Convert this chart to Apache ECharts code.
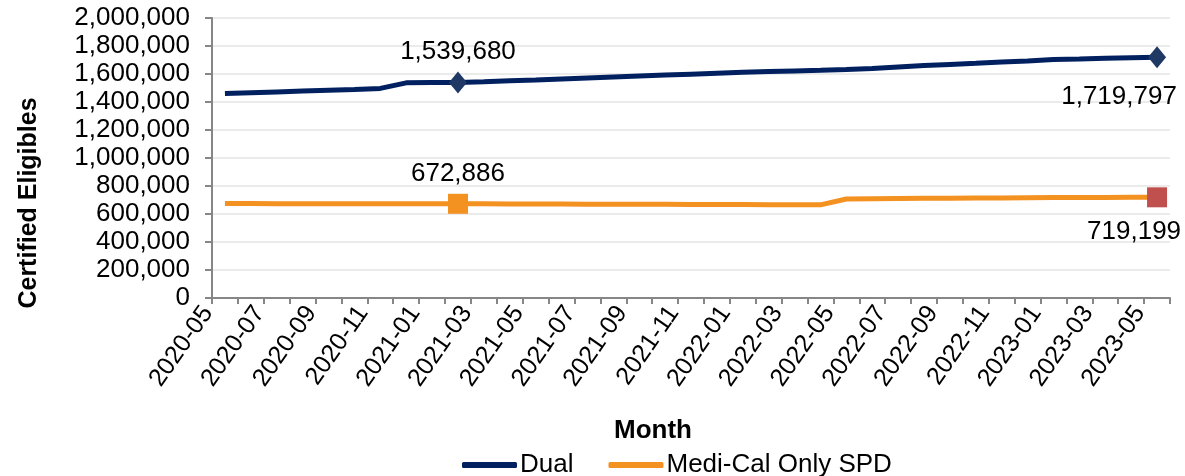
<!DOCTYPE html>
<html>
<head>
<meta charset="utf-8">
<script src="https://cdn.jsdelivr.net/npm/echarts@6/dist/echarts.min.js"></script>
<style>
  html, body { margin: 0; padding: 0; background: #fff; }
  #chart { width: 1185px; height: 476px; }
</style>
</head>
<body>
<div id="chart"></div>
<script>
// months 2020-05 .. 2023-05
var months = [
  '2020-05','2020-06','2020-07','2020-08','2020-09','2020-10','2020-11','2020-12',
  '2021-01','2021-02','2021-03','2021-04','2021-05','2021-06','2021-07','2021-08',
  '2021-09','2021-10','2021-11','2021-12','2022-01','2022-02','2022-03','2022-04',
  '2022-05','2022-06','2022-07','2022-08','2022-09','2022-10','2022-11','2022-12',
  '2023-01','2023-02','2023-03','2023-04','2023-05'
];
var dual = [
  1460000, 1466000, 1472000, 1478000, 1484000, 1490000, 1497000, 1537000,
  1538500, 1539680, 1545000, 1551000, 1557000, 1564000, 1571000, 1578000,
  1585000, 1592000, 1599000, 1606000, 1612000, 1617000, 1622000, 1627000,
  1633000, 1640000, 1650000, 1660000, 1668000, 1676000, 1685000, 1693000,
  1703000, 1707000, 1712000, 1716000, 1719797
];
var spd = [
  675000, 674500, 674000, 674000, 673800, 673500, 673500, 673200,
  673000, 672886, 672500, 672000, 671500, 671000, 670500, 670000,
  669500, 669000, 668000, 667500, 667000, 666500, 666000, 665500,
  707000, 709000, 710500, 712000, 713000, 714000, 715000, 716000,
  717000, 717800, 718500, 719000, 719199
];
var yTicks = [0, 200000, 400000, 600000, 800000, 1000000, 1200000, 1400000, 1600000, 1800000, 2000000];

var font = '"Liberation Sans", Arial, sans-serif';
var fs = 26;
var fmt = function (v) { return Number(v).toLocaleString('en-US'); };

// 标出的点
function dualData() {
  return dual.map(function (v, i) {
    if (i === 9) {
      return { value: v, symbol: 'diamond', symbolSize: [18, 22],
        itemStyle: { color: '#1f3864' },
        label: { show: true, position: 'top', distance: 7 } };
    }
    if (i === dual.length - 1) {
      return { value: v, symbol: 'diamond', symbolSize: [18, 22],
        itemStyle: { color: '#1f3864' },
        label: { show: true, position: 'bottom', distance: 16, offset: [-38, 0] } };
    }
    return v;
  });
}
function spdData() {
  return spd.map(function (v, i) {
    if (i === 9) {
      return { value: v, symbol: 'rect', symbolSize: 20,
        itemStyle: { color: '#f39121' },
        label: { show: true, position: 'top', distance: 7 } };
    }
    if (i === spd.length - 1) {
      return { value: v, symbol: 'rect', symbolSize: 20,
        itemStyle: { color: '#c0504d' },
        label: { show: true, position: 'bottom', distance: 12, offset: [-23, 0] } };
    }
    return v;
  });
}

var chart = echarts.init(document.getElementById('chart'));
chart.setOption({
  animation: false,
  textStyle: { fontFamily: font },
  grid: { left: 212, right: 15, top: 18, bottom: 178 },
  legend: {
    left: 457, top: 447,
    itemWidth: 55, itemHeight: 6, itemGap: 35,
    icon: 'roundRect',
    textStyle: { fontSize: fs, color: '#000', fontFamily: font, padding: [0, 0, 0, -2] },
    data: ['Dual', 'Medi-Cal Only SPD']
  },
  xAxis: {
    type: 'category',
    data: months,
    boundaryGap: true,
    name: 'Month',
    nameLocation: 'middle',
    nameGap: 120,
    nameTextStyle: { fontSize: fs, fontWeight: 'bold', color: '#000', fontFamily: font, padding: [0, 76, 0, 0] },
    axisLine: { lineStyle: { color: '#868686', width: 2 } },
    axisTick: { show: true, interval: 0, length: 6, lineStyle: { color: '#868686', width: 2 } },
    axisLabel: { interval: 1, rotate: 55, fontSize: 25, color: '#000', margin: 8, fontFamily: font,
      verticalAlign: 'bottom', padding: [0, 12, 0, 0] },
    splitLine: { show: false }
  },
  yAxis: {
    type: 'value',
    min: 0, max: 2000000, interval: 200000,
    name: 'Certified Eligibles',
    nameLocation: 'middle',
    nameGap: 170,
    nameTextStyle: { fontSize: 25, fontWeight: 'bold', color: '#000', fontFamily: font, padding: [0, 90, 0, 0] },
    axisLine: { show: true, lineStyle: { color: '#868686', width: 2 } },
    axisTick: { show: true, length: 7, lineStyle: { color: '#868686', width: 2 } },
    axisLabel: { fontSize: fs, color: '#000', margin: 22, fontFamily: font, formatter: fmt },
    splitLine: { lineStyle: { color: '#ebebeb', width: 2 } }
  },
  series: [
    {
      name: 'Dual',
      type: 'line',
      data: dualData(),
      color: '#002060',
      showAllSymbol: true,
      symbol: 'circle',
      symbolSize: 0,
      lineStyle: { width: 5, color: '#002060' },
      label: { show: false, fontSize: fs, color: '#000', fontFamily: font, formatter: function (p) { return fmt(p.value); } }
    },
    {
      name: 'Medi-Cal Only SPD',
      type: 'line',
      data: spdData(),
      color: '#f39121',
      showAllSymbol: true,
      symbol: 'circle',
      symbolSize: 0,
      lineStyle: { width: 5, color: '#f39121' },
      label: { show: false, fontSize: fs, color: '#000', fontFamily: font, formatter: function (p) { return fmt(p.value); } }
    }
  ]
});
</script>
</body>
</html>
